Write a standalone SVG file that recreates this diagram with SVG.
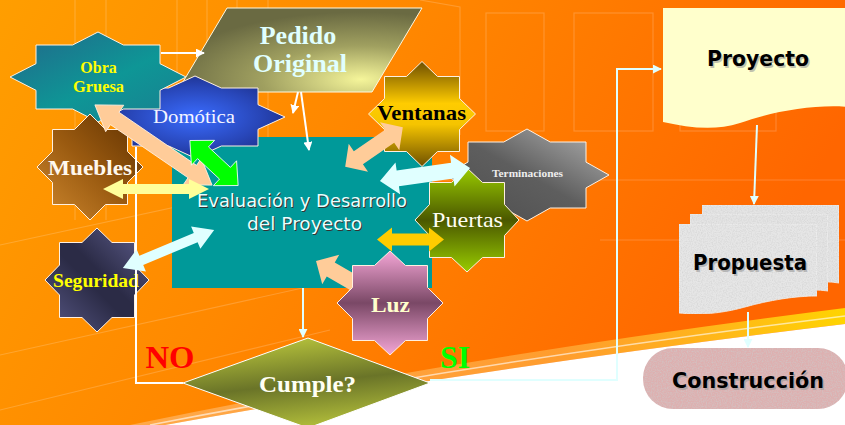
<svg xmlns="http://www.w3.org/2000/svg" width="845" height="425" viewBox="0 0 845 425">
<defs>
<style>
.star{stroke:#FFF0E0;stroke-width:1}
.ser{font-family:"Liberation Serif","Times New Roman",serif;text-anchor:middle}
.sans{font-family:"DejaVu Sans","Liberation Sans",sans-serif;text-anchor:middle}
.ln{fill:none;stroke-width:2}
.lw{stroke:#FFFFFF}
.lc{stroke:#E0FFFF}
.deco{fill:none;stroke:#FFFFFF;stroke-opacity:0.18;stroke-width:1.2}
</style>
<linearGradient id="bg" x1="0" y1="0" x2="1" y2="0.3">
<stop offset="0" stop-color="#FF9E00"/><stop offset="0.45" stop-color="#FF8800"/><stop offset="1" stop-color="#FF6600"/>
</linearGradient>
<linearGradient id="band" x1="0" y1="0" x2="1" y2="0">
<stop offset="0" stop-color="#FFC890" stop-opacity="0.5"/><stop offset="0.6" stop-color="#FFB040" stop-opacity="0.7"/><stop offset="1" stop-color="#FFD400"/>
</linearGradient>
<radialGradient id="gPed" cx="0.75" cy="0.85" r="0.8">
<stop offset="0" stop-color="#F5F59A"/><stop offset="0.5" stop-color="#A0A060"/><stop offset="1" stop-color="#6A6A42"/>
</radialGradient>
<linearGradient id="gObra" x1="0" y1="0" x2="1" y2="1">
<stop offset="0" stop-color="#22678A"/><stop offset="0.55" stop-color="#0E9696"/><stop offset="1" stop-color="#1A7E90"/>
</linearGradient>
<radialGradient id="gDom" cx="0.5" cy="0.5" r="0.6">
<stop offset="0" stop-color="#3A6CFF"/><stop offset="0.6" stop-color="#2846B8"/><stop offset="1" stop-color="#1A2A80"/>
</radialGradient>
<linearGradient id="gMue" x1="1" y1="0" x2="0" y2="1">
<stop offset="0" stop-color="#5E3000"/><stop offset="0.5" stop-color="#9A5A10"/><stop offset="1" stop-color="#D08A30"/>
</linearGradient>
<linearGradient id="gSeg" x1="0" y1="1" x2="1" y2="0">
<stop offset="0" stop-color="#5A5A88"/><stop offset="0.45" stop-color="#2B2B46"/><stop offset="0.55" stop-color="#2B2B46"/><stop offset="1" stop-color="#606090"/>
</linearGradient>
<linearGradient id="gVen" x1="0" y1="0" x2="0" y2="1">
<stop offset="0" stop-color="#6E4E00"/><stop offset="0.4" stop-color="#FFCC00"/><stop offset="0.6" stop-color="#F5C400"/><stop offset="1" stop-color="#6E5000"/>
</linearGradient>
<linearGradient id="gTer" x1="0" y1="1" x2="1" y2="0">
<stop offset="0" stop-color="#4D4D4D"/><stop offset="0.5" stop-color="#5E5E5E"/><stop offset="1" stop-color="#B4B4B4"/>
</linearGradient>
<linearGradient id="gPue" x1="0" y1="0" x2="0" y2="1">
<stop offset="0" stop-color="#99CC00"/><stop offset="0.5" stop-color="#4B5800"/><stop offset="1" stop-color="#99CC00"/>
</linearGradient>
<linearGradient id="gLuz" x1="0" y1="0" x2="0" y2="1">
<stop offset="0" stop-color="#F4A6D6"/><stop offset="0.5" stop-color="#7A4866"/><stop offset="1" stop-color="#F4A6D6"/>
</linearGradient>
<linearGradient id="gCum" x1="0.35" y1="0" x2="0.65" y2="1">
<stop offset="0" stop-color="#B8C43C"/><stop offset="0.5" stop-color="#6A7428"/><stop offset="1" stop-color="#B8C43C"/>
</linearGradient>
<filter id="grain" x="0" y="0" width="100%" height="100%">
<feTurbulence type="fractalNoise" baseFrequency="0.8" numOctaves="2" seed="3" result="n"/>
<feColorMatrix in="n" type="matrix" values="0 0 0 0 0.6  0 0 0 0 0.6  0 0 0 0 0.6  1.2 0 0 0 -0.45" result="g"/>
<feComposite in="g" in2="SourceGraphic" operator="atop"/>
</filter>
<marker id="ahW" viewBox="0 0 10 10" refX="9" refY="5" markerWidth="9" markerHeight="9" markerUnits="userSpaceOnUse" orient="auto"><path d="M0,0 L10,5 L0,10 z" fill="#FFFFFF"/></marker>
<marker id="ahC" viewBox="0 0 10 10" refX="9" refY="5" markerWidth="9" markerHeight="9" markerUnits="userSpaceOnUse" orient="auto"><path d="M0,0 L10,5 L0,10 z" fill="#E0FFFF"/></marker>
</defs>

<!-- background -->
<rect width="845" height="425" fill="url(#bg)"/>
<g id="background-decor">
<path class="deco" d="M75,0 V220 M106,0 V220 M177,0 V137 M207,0 V137 M237,0 V137 M268,0 V137"/>
<path class="deco" d="M420,0 L460,7 V135"/>
<rect class="deco" x="486" y="13" width="58" height="118"/>
<rect class="deco" x="574" y="13" width="79" height="118"/>
<rect class="deco" x="680" y="13" width="96" height="118"/>
<path class="deco" d="M430,180 H845 M600,240 H845"/>
<path class="deco" d="M0,245 L300,180 M0,355 L420,262 M0,410 L330,330"/>
</g>
<path d="M130,425 Q470,355 845,308 L845,324 Q480,368 165,425 Z" fill="url(#band)"/>
<path d="M150,425 Q475,362 845,316" fill="none" stroke="#FFFFFF" stroke-opacity="0.6" stroke-width="1.5"/>
<path d="M165,425 Q480,368 845,324 L845,425 Z" fill="#FFFFFF"/>

<!-- main process -->
<g id="evaluacion">
<rect x="172" y="137" width="260" height="151" fill="#009999"/>
<text class="sans" x="303" y="208" font-size="17" fill="#333333" textLength="210" lengthAdjust="spacingAndGlyphs">Evaluación y Desarrollo</text>
<text class="sans" x="305.5" y="231" font-size="17" fill="#333333" textLength="115" lengthAdjust="spacingAndGlyphs">del Proyecto</text>
<text class="sans" x="302" y="207" font-size="17" fill="#E8FFFF" textLength="210" lengthAdjust="spacingAndGlyphs">Evaluación y Desarrollo</text>
<text class="sans" x="304.5" y="230" font-size="17" fill="#E8FFFF" textLength="115" lengthAdjust="spacingAndGlyphs">del Proyecto</text>
</g>

<g id="pedido">
<polygon points="227,8 422,8 372,92 177,92" fill="url(#gPed)" stroke="#FFF8E0" stroke-width="1"/>
<text class="ser" x="298" y="44" font-size="26" font-weight="bold" fill="#E0FFFF">Pedido</text>
<text class="ser" x="300" y="72" font-size="26" font-weight="bold" fill="#E0FFFF">Original</text>
</g>

<g id="domotica" transform="translate(195,117)">
<polygon class="star" fill="url(#gDom)" points="0,-41 26.3,-29 63,-29 63,-12.3 90,0 63,12.3 63,29 26.3,29 0,41 -26.3,29 -63,29 -63,12.3 -90,0 -63,-12.3 -63,-29 -26.3,-29"/>
<text class="ser" x="-1" y="6" font-size="19" fill="#F5F5FF" textLength="82" lengthAdjust="spacingAndGlyphs">Domótica</text>
</g>

<g id="obra-gruesa" transform="translate(98,77)">
<polygon class="star" fill="url(#gObra)" points="0,-45 25.4,-32 62,-32 62,-13.3 88,0 62,13.3 62,32 25.4,32 0,45 -25.4,32 -62,32 -62,13.3 -88,0 -62,-13.3 -62,-32 -25.4,-32"/>
<text class="ser" x="0.5" y="-4" font-size="16" font-weight="bold" fill="#FFFF00">Obra</text>
<text class="ser" x="0.5" y="15" font-size="16" font-weight="bold" fill="#FFFF00" textLength="51" lengthAdjust="spacingAndGlyphs">Gruesa</text>
</g>

<g id="muebles" transform="translate(90,167)">
<polygon class="star" fill="url(#gMue)" points="0,-53 15.5,-37.5 37.5,-37.5 37.5,-15.5 53,0 37.5,15.5 37.5,37.5 15.5,37.5 0,53 -15.5,37.5 -37.5,37.5 -37.5,15.5 -53,0 -37.5,-15.5 -37.5,-37.5 -15.5,-37.5"/>
<text class="ser" x="0" y="8" font-size="20" font-weight="bold" fill="#FFF8EE" textLength="84" lengthAdjust="spacingAndGlyphs">Muebles</text>
</g>

<g id="seguridad" transform="translate(97,280)">
<polygon class="star" fill="url(#gSeg)" points="0,-52 15,-37.5 37.5,-37.5 37.5,-15 52,0 37.5,15 37.5,37.5 15,37.5 0,52 -15,37.5 -37.5,37.5 -37.5,15 -52,0 -37.5,-15 -37.5,-37.5 -15,-37.5"/>
<text class="ser" x="-1" y="7" font-size="18" font-weight="bold" fill="#FFFF00" textLength="86" lengthAdjust="spacingAndGlyphs">Seguridad</text>
</g>

<g id="ventanas" transform="translate(422,114)">
<polygon class="star" fill="url(#gVen)" points="0,-52.5 15.5,-37.5 37.5,-37.5 37.5,-15.5 53.5,0 37.5,15.5 37.5,37.5 15.5,37.5 0,52.5 -15.5,37.5 -37.5,37.5 -37.5,15.5 -53.5,0 -37.5,-15.5 -37.5,-37.5 -15.5,-37.5"/>
<text class="ser" x="-0.5" y="6" font-size="21" font-weight="bold" fill="#000000" textLength="89" lengthAdjust="spacingAndGlyphs">Ventanas</text>
</g>

<g id="terminaciones" transform="translate(527,175)">
<polygon class="star" fill="url(#gTer)" points="0,-46 23.2,-33 59,-33 59,-12.9 82,0 59,12.9 59,33 23.2,33 0,46 -23.2,33 -59,33 -59,12.9 -82,0 -59,-12.9 -59,-33 -23.2,-33"/>
<text class="ser" x="0.5" y="2" font-size="10.5" font-weight="bold" fill="#EEEEEE" textLength="71" lengthAdjust="spacingAndGlyphs">Terminaciones</text>
</g>

<g id="puertas" transform="translate(467,220)">
<polygon class="star" fill="url(#gPue)" points="0,-52 15.5,-37.5 37.5,-37.5 37.5,-15.5 52,0 37.5,15.5 37.5,37.5 15.5,37.5 0,52 -15.5,37.5 -37.5,37.5 -37.5,15.5 -52,0 -37.5,-15.5 -37.5,-37.5 -15.5,-37.5"/>
<text class="ser" x="0.5" y="7" font-size="22" fill="#FFFFF4" textLength="71" lengthAdjust="spacingAndGlyphs">Puertas</text>
</g>

<!-- connectors -->
<g id="connectors">
<path class="ln lw" d="M161,53 H204" marker-end="url(#ahW)"/>
<path class="ln lw" d="M298,92 L293,113" marker-end="url(#ahW)"/>
<path class="ln lw" d="M301,92 L309,150" marker-end="url(#ahW)"/>
<path class="ln lc" d="M303,288 V337" marker-end="url(#ahC)"/>
<path class="ln lw" d="M183,383 H136 V147"/>
<path class="ln lc" d="M430,380 H617 V69 H661" marker-end="url(#ahC)"/>
<path class="ln lc" d="M757,125 L754,204" marker-end="url(#ahC)"/>
<path class="ln lc" d="M748,312 V347" marker-end="url(#ahC)"/>
<polygon transform="translate(153.5,145) rotate(34.4)" fill="#FFCC99" stroke="#FFF0E0" stroke-width="0.8" points="-71,0 -47,-16 -47,-7.5 47,-7.5 47,-16 71,0 47,16 47,7.5 -47,7.5 -47,16"/>
<polygon transform="translate(214,163) rotate(43)" fill="#00FF00" stroke="#FFFFFF" stroke-width="0.8" points="-33,0 -15,-17 -15,-8 15,-8 15,-17 33,0 15,17 15,8 -15,8 -15,17"/>
<polygon transform="translate(156,189)" fill="#FFFF99" points="-53,0 -33,-10 -33,-5 33,-5 33,-10 53,0 33,10 33,5 -33,5 -33,10"/>
<polygon transform="translate(168.5,249) rotate(-22.7)" fill="#E0FFFF" points="-49.5,0 -29.5,-12 -29.5,-5 29.5,-5 29.5,-12 49.5,0 29.5,12 29.5,5 -29.5,5 -29.5,12"/>
<polygon transform="translate(374,147) rotate(-34.6)" fill="#FFCC99" points="-35,0 -19,-17 -19,-8 19,-8 19,-17 35,0 19,17 19,8 -19,8 -19,17"/>
<polygon transform="translate(425,174.5) rotate(-8.2)" fill="#E0FFFF" points="-45.5,0 -27.5,-16 -27.5,-8 27.5,-8 27.5,-16 45.5,0 27.5,16 27.5,8 -27.5,8 -27.5,16"/>
<polygon transform="translate(410.5,239.5)" fill="#FFCC00" points="-33.5,0 -18.5,-12 -18.5,-6 18.5,-6 18.5,-12 33.5,0 18.5,12 18.5,6 -18.5,6 -18.5,12"/>
<polygon transform="translate(342,276) rotate(30)" fill="#FFCC99" points="-30,0 -13,-17 -13,-8 13,-8 13,-17 30,0 13,17 13,8 -13,8 -13,17"/>
</g>

<g id="luz" transform="translate(390,303)">
<polygon class="star" fill="url(#gLuz)" points="0,-52 15.5,-37.5 37.5,-37.5 37.5,-15.5 53,0 37.5,15.5 37.5,37.5 15.5,37.5 0,52 -15.5,37.5 -37.5,37.5 -37.5,15.5 -53,0 -37.5,-15.5 -37.5,-37.5 -15.5,-37.5"/>
<text class="ser" x="0.5" y="9" font-size="22" font-weight="bold" fill="#FFFFCC" textLength="39" lengthAdjust="spacingAndGlyphs">Luz</text>
</g>

<g id="cumple">
<polygon points="308,338 430,383 308,428 183,383" fill="url(#gCum)" stroke="#FFFFFF" stroke-width="1"/>
<text class="ser" x="307.5" y="392" font-size="24" font-weight="bold" fill="#FFFFF4" textLength="97" lengthAdjust="spacingAndGlyphs">Cumple?</text>
</g>

<g id="labels">
<text class="ser" x="170" y="368" font-size="31" font-weight="bold" fill="#FF0000" textLength="49" lengthAdjust="spacingAndGlyphs">NO</text>
<text class="ser" x="455" y="368" font-size="31" font-weight="bold" fill="#00FF00" textLength="30" lengthAdjust="spacingAndGlyphs">SI</text>
</g>

<g id="proyecto">
<path d="M663,8 H848 V107 C815,104 770,112 740,123 C715,131 690,128 663,122 Z" fill="#FFFFCC"/>
<text class="sans" x="759.5" y="67.5" font-size="21" font-weight="bold" fill="#999999" fill-opacity="0.6" textLength="102" lengthAdjust="spacingAndGlyphs">Proyecto</text>
<text class="sans" x="758" y="66" font-size="21" font-weight="bold" fill="#000000" textLength="102" lengthAdjust="spacingAndGlyphs">Proyecto</text>
</g>

<g id="propuesta">
<path d="M702,205 H839 V283 C820,280 800,283 790,290 L702,290 Z" fill="#E4E4E4" stroke="#F4F4F4" stroke-width="0.8" filter="url(#grain)"/>
<path d="M690,214 H828 V291 C808,288 790,292 780,299 L690,299 Z" fill="#E4E4E4" stroke="#F4F4F4" stroke-width="0.8" filter="url(#grain)"/>
<path d="M679,224 H817 V296 C795,296 770,300 745,307 C720,314 700,315 679,313 Z" fill="#E6E6E6" stroke="#F4F4F4" stroke-width="0.8" filter="url(#grain)"/>
<text class="sans" x="751.5" y="271.5" font-size="21" font-weight="bold" fill="#999999" fill-opacity="0.6" textLength="114" lengthAdjust="spacingAndGlyphs">Propuesta</text>
<text class="sans" x="750" y="270" font-size="21" font-weight="bold" fill="#000000" textLength="114" lengthAdjust="spacingAndGlyphs">Propuesta</text>
</g>

<g id="construccion">
<rect x="643" y="348" width="205" height="61" rx="30" fill="#DDB0B0" filter="url(#grain)"/>
<text class="sans" x="749.5" y="389.5" font-size="21" font-weight="bold" fill="#999999" fill-opacity="0.6" textLength="152" lengthAdjust="spacingAndGlyphs">Construcción</text>
<text class="sans" x="748" y="388" font-size="21" font-weight="bold" fill="#000000" textLength="152" lengthAdjust="spacingAndGlyphs">Construcción</text>
</g>
</svg>
